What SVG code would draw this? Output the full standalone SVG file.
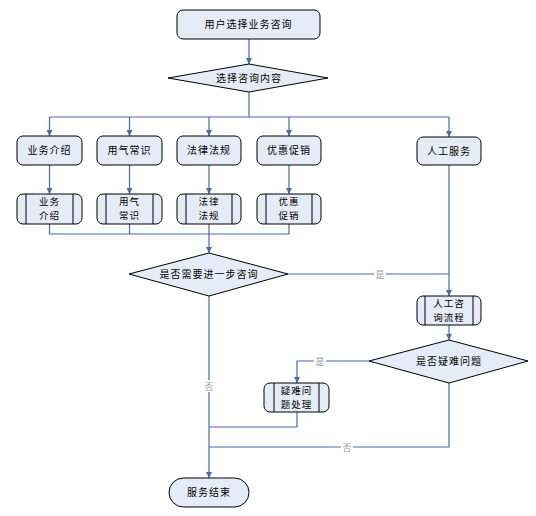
<svg xmlns="http://www.w3.org/2000/svg" width="536" height="516" viewBox="0 0 536 516">
<style>
.n{fill:#E6ECF7;stroke:#000;stroke-width:1}
.t{font-family:"Noto Sans CJK SC","Liberation Sans",sans-serif;font-size:10px;fill:#000;text-anchor:middle;letter-spacing:1px}
.t2{font-family:"Noto Sans CJK SC","Liberation Sans",sans-serif;font-size:9.5px;fill:#000;text-anchor:middle;letter-spacing:1px}
.c{fill:none;stroke:#4A6BA6;stroke-width:1.2}
.a{marker-end:url(#ar)}
.l{font-family:"Noto Sans CJK SC","Liberation Sans",sans-serif;font-size:9px;fill:#9A9A9A;text-anchor:middle}
.lb{fill:#fff}
.in{stroke:#000;stroke-width:1}
</style>
<defs>
<marker id="ar" viewBox="0 0 10 10" refX="10" refY="5" markerWidth="6" markerHeight="6" markerUnits="userSpaceOnUse" orient="auto">
<path d="M0,0 L10,5 L0,10 z" fill="#4A6BA6"/>
</marker>
</defs>
<rect width="536" height="516" fill="#fff"/>
<g id="connectors">
<path class="c a" d="M249,39 V64"/>
<path class="c" d="M249,92 V117"/>
<path class="c" d="M49.5,117 H449"/>
<path class="c a" d="M49.5,117 V136"/>
<path class="c a" d="M129.5,117 V136"/>
<path class="c a" d="M209,117 V136"/>
<path class="c a" d="M289,117 V136"/>
<path class="c a" d="M449,117 V137"/>
<path class="c a" d="M49.5,165 V194"/>
<path class="c a" d="M129.5,165 V194"/>
<path class="c a" d="M209,165 V194"/>
<path class="c a" d="M289,165 V194"/>
<path class="c" d="M49.5,224 V234 H289 V224"/>
<path class="c" d="M129.5,224 V234"/>
<path class="c a" d="M209,224 V253"/>
<path class="c a" d="M449,165 V296"/>
<path class="c" d="M288,274 H449"/>
<rect class="lb" x="374" y="268" width="12" height="12"/>
<text class="l" x="380" y="277.5">是</text>
<path class="c a" d="M449,325 V340"/>
<path class="c a" d="M369,361 H297 V383"/>
<rect class="lb" x="314" y="355" width="12" height="12"/>
<text class="l" x="320" y="364.5">是</text>
<path class="c a" d="M209,296 V478"/>
<rect class="lb" x="203" y="380" width="12" height="12"/>
<text class="l" x="209" y="389.5">否</text>
<path class="c" d="M297,412 V427 H209"/>
<path class="c" d="M449,383 V447 H209"/>
<rect class="lb" x="341" y="441" width="12" height="12"/>
<text class="l" x="347" y="450.5">否</text>
</g>
<g id="start">
<rect class="n" x="177" y="10" width="143" height="29" rx="6"/>
<text class="t" x="248.5" y="28">用户选择业务咨询</text>
</g>
<g id="choose">
<polygon class="n" points="168,78 249,64 328,78 249,92"/>
<text class="t" x="249" y="81.5">选择咨询内容</text>
</g>
<g id="yewu">
<rect class="n" x="17" y="136" width="65" height="29" rx="6"/>
<text class="t" x="49.5" y="154">业务介绍</text>
</g>
<g id="yongqi">
<rect class="n" x="97" y="136" width="65" height="29" rx="6"/>
<text class="t" x="129.5" y="154">用气常识</text>
</g>
<g id="falv">
<rect class="n" x="177" y="136" width="64" height="29" rx="6"/>
<text class="t" x="209" y="154">法律法规</text>
</g>
<g id="youhui">
<rect class="n" x="257" y="136" width="64" height="29" rx="6"/>
<text class="t" x="289" y="154">优惠促销</text>
</g>
<g id="rengong">
<rect class="n" x="417" y="137" width="64" height="28" rx="6"/>
<text class="t" x="449" y="154.5">人工服务</text>
</g>
<g id="yewu2">
<rect class="n" x="17" y="194" width="65" height="30" rx="6"/>
<line class="in" x1="26" y1="194" x2="26" y2="224"/>
<line class="in" x1="73" y1="194" x2="73" y2="224"/>
<text class="t2" x="49.5" y="205">业务</text>
<text class="t2" x="49.5" y="219">介绍</text>
</g>
<g id="yongqi2">
<rect class="n" x="97" y="194" width="65" height="30" rx="6"/>
<line class="in" x1="106" y1="194" x2="106" y2="224"/>
<line class="in" x1="153" y1="194" x2="153" y2="224"/>
<text class="t2" x="129.5" y="205">用气</text>
<text class="t2" x="129.5" y="219">常识</text>
</g>
<g id="falv2">
<rect class="n" x="177" y="194" width="64" height="30" rx="6"/>
<line class="in" x1="186" y1="194" x2="186" y2="224"/>
<line class="in" x1="232" y1="194" x2="232" y2="224"/>
<text class="t2" x="209" y="205">法律</text>
<text class="t2" x="209" y="219">法规</text>
</g>
<g id="youhui2">
<rect class="n" x="257" y="194" width="64" height="30" rx="6"/>
<line class="in" x1="266" y1="194" x2="266" y2="224"/>
<line class="in" x1="312" y1="194" x2="312" y2="224"/>
<text class="t2" x="289" y="205">优惠</text>
<text class="t2" x="289" y="219">促销</text>
</g>
<g id="further">
<polygon class="n" points="129,274 209,253 288,274 209,296"/>
<text class="t" x="209" y="277.5">是否需要进一步咨询</text>
</g>
<g id="rengongliucheng">
<rect class="n" x="417" y="296" width="64" height="29" rx="6"/>
<line class="in" x1="425" y1="296" x2="425" y2="325"/>
<line class="in" x1="473" y1="296" x2="473" y2="325"/>
<text class="t2" x="449" y="307">人工咨</text>
<text class="t2" x="449" y="321">询流程</text>
</g>
<g id="yinan">
<polygon class="n" points="369,361 449,340 528,361 449,383"/>
<text class="t" x="449" y="364.5">是否疑难问题</text>
</g>
<g id="yinanchuli">
<rect class="n" x="264" y="383" width="65" height="29" rx="6"/>
<line class="in" x1="274" y1="383" x2="274" y2="412"/>
<line class="in" x1="319" y1="383" x2="319" y2="412"/>
<text class="t2" x="296.5" y="394">疑难问</text>
<text class="t2" x="296.5" y="408">题处理</text>
</g>
<g id="end">
<rect class="n" x="169" y="478" width="80" height="29" rx="14.5"/>
<text class="t" x="209" y="496">服务结束</text>
</g>
</svg>
